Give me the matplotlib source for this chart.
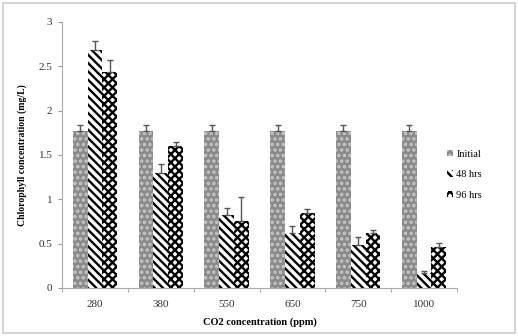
import numpy as np
import matplotlib.pyplot as plt
from matplotlib.patches import Rectangle

plt.rcParams['font.family'] = ['Liberation Serif', 'DejaVu Serif']
plt.rcParams['hatch.linewidth'] = 1.7

# data
co2 = ['280', '380', '550', '650', '750', '1000']
initial = [1.77, 1.77, 1.77, 1.77, 1.77, 1.77]
initial_err = [0.07, 0.07, 0.07, 0.07, 0.07, 0.07]
hrs48 = [2.68, 1.30, 0.82, 0.62, 0.48, 0.17]
hrs48_err = [0.10, 0.10, 0.08, 0.08, 0.10, 0.02]
hrs96 = [2.43, 1.60, 0.75, 0.85, 0.62, 0.46]
hrs96_err = [0.14, 0.04, 0.27, 0.04, 0.03, 0.05]

fig = plt.figure(figsize=(5.18, 3.36), dpi=100)
ax = fig.add_axes([0.12, 0.143, 0.762, 0.792])

x = np.arange(len(co2))
w = 0.225

def upper(e):
    return [np.zeros(len(e)), e]

ekw = dict(ecolor='#555555', elinewidth=1, capsize=2.5, capthick=1)
b1 = ax.bar(x - w, initial, w, color='#8a8a8a', hatch='...', edgecolor='#c8c8c8',
            linewidth=0, yerr=upper(initial_err), error_kw=ekw, label='Initial')
b2 = ax.bar(x, hrs48, w, color='white', hatch='\\\\\\\\', edgecolor='black',
            linewidth=0, yerr=upper(hrs48_err), error_kw=ekw, label='48 hrs')
b3 = ax.bar(x + w, hrs96, w, color='white', hatch='xxxx', edgecolor='black',
            linewidth=0, yerr=upper(hrs96_err), error_kw=ekw, label='96 hrs')

ax.set_xlim(-0.5, 5.5)
ax.set_ylim(0, 3)
ax.set_yticks([0, 0.5, 1, 1.5, 2, 2.5, 3])
ax.set_yticklabels(['0', '0.5', '1', '1.5', '2', '2.5', '3'])
ax.set_xticks(x)
ax.set_xticklabels(co2)
ax.set_xticks(np.arange(-0.5, 6, 1), minor=True)
ax.tick_params(axis='x', which='major', length=0, pad=9)
ax.tick_params(axis='x', which='minor', length=3, color='#999999')
ax.tick_params(axis='y', length=3, color='#999999', pad=4)
ax.tick_params(labelsize=8, labelcolor='#333333')
for s in ['top', 'right']:
    ax.spines[s].set_visible(False)
for s in ['left', 'bottom']:
    ax.spines[s].set_color('#aaaaaa')

ax.set_xlabel('CO2 concentration (ppm)', fontsize=7.5, fontweight='bold', labelpad=6)
ax.set_ylabel('Chlorophyll concentration (mg/L)', fontsize=7, fontweight='bold', labelpad=8)

fig.legend(handles=[b1, b2, b3], loc='center left', bbox_to_anchor=(0.845, 0.48),
           frameon=False, fontsize=7.5, handlelength=0.6, handleheight=0.6,
           handletextpad=0.3, labelspacing=1.1)

fig.patches.append(Rectangle((0.006, 0.008), 0.988, 0.984, transform=fig.transFigure,
                             fill=False, edgecolor='#cccccc', linewidth=1.2))

fig.savefig('out.png', dpi=100)
